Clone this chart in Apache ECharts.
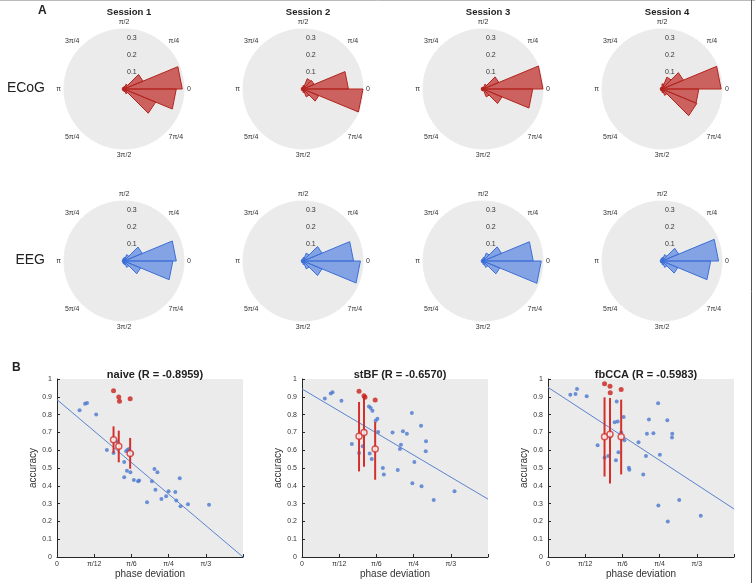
<!DOCTYPE html>
<html>
<head>
<meta charset="utf-8">
<script src="https://cdn.jsdelivr.net/npm/echarts@6/dist/echarts.min.js"></script>
<style>
  html, body { margin: 0; padding: 0; background: #fff; }
  #main { width: 755px; height: 583px; }
</style>
</head>
<body>
<div id="main"></div>
<script>
// polar histograms: 16 bins of pi/8, bin k covers [k*22.5, (k+1)*22.5] degrees (counterclockwise from 0)
var sessions = ['Session 1', 'Session 2', 'Session 3', 'Session 4'];
var binDeg = 22.5;
var ecogS1 = [0.34, 0.12, 0.03, 0.015, 0.01, 0.01, 0.01, 0.01, 0.01, 0.01, 0.01, 0.01, 0.015, 0.03, 0.20, 0.305];
var ecogS2 = [0.265, 0.07, 0.065, 0.02, 0.01, 0.01, 0.01, 0.01, 0.01, 0.01, 0.01, 0.01, 0.02, 0.05, 0.10, 0.35];
var ecogS3 = [0.35, 0.10, 0.03, 0.01, 0.01, 0.01, 0.01, 0.01, 0.01, 0.01, 0.01, 0.01, 0.01, 0.05, 0.12, 0.29];
var ecogS4 = [0.345, 0.135, 0.075, 0.03, 0.01, 0.01, 0.01, 0.01, 0.01, 0.01, 0.01, 0.01, 0.02, 0.04, 0.22, 0.215];
var eegS1 = [0.305, 0.115, 0.04, 0.02, 0.015, 0.01, 0.01, 0.01, 0.01, 0.01, 0.01, 0.015, 0.02, 0.04, 0.105, 0.285];
var eegS2 = [0.295, 0.12, 0.05, 0.02, 0.01, 0.01, 0.01, 0.01, 0.01, 0.01, 0.01, 0.01, 0.02, 0.05, 0.12, 0.335];
var eegS3 = [0.293, 0.117, 0.05, 0.02, 0.01, 0.01, 0.01, 0.01, 0.01, 0.01, 0.01, 0.01, 0.02, 0.04, 0.106, 0.34];
var eegS4 = [0.33, 0.105, 0.04, 0.02, 0.015, 0.01, 0.01, 0.01, 0.01, 0.01, 0.01, 0.01, 0.02, 0.04, 0.10, 0.284];
var angleText = {0: '0', 45: 'π/4', 90: 'π/2', 135: '3π/4', 180: 'π', 225: '5π/4', 270: '3π/2', 315: '7π/4'};

// scatter panels, phase deviation in degrees (15 = pi/12), accuracy 0..1
var xTickText = {0: '0', 15: 'π/12', 30: 'π/6', 45: 'π/4', 60: 'π/3', 75: ''};
var panelTitles = ['naive (R = -0.8959)', 'stBF (R = -0.6570)', 'fbCCA (R = -0.5983)'];

var naiveBlue = [[9.1,0.824],[11.3,0.861],[12.1,0.865],[15.8,0.80],[20.1,0.601],[22.8,0.584],[24.1,0.65],
  [27.1,0.534],[27.9,0.594],[28.4,0.601],[29,0.607],[30.3,0.582],[27.1,0.448],[28.2,0.485],[29.6,0.476],
  [31,0.433],[32.7,0.425],[33.1,0.43],[36.3,0.307],[38.3,0.425],[39.3,0.494],[39.7,0.378],[40.5,0.476],
  [42.1,0.326],[44,0.341],[45,0.369],[47.7,0.365],[48.1,0.318],[49.5,0.442],[49.8,0.285],[52.8,0.296],[61.3,0.294]];
var naiveRed = [[22.8,0.934],[24.9,0.899],[25.2,0.875],[29.5,0.889]];
var naiveMean = [[22.8,0.659,0.584,0.734],[24.9,0.622,0.532,0.71],[29.5,0.582,0.496,0.669]];
var naiveFit = [[0,0.884],[75,0]];

var stbfBlue = [[9.2,0.891],[11.6,0.918],[12.3,0.925],[15.9,0.878],[20.1,0.635],[23,0.584],[24.5,0.622],
  [25.3,0.708],[27.3,0.582],[28.1,0.551],[27,0.845],[27.7,0.837],[28.4,0.822],[29.7,0.766],[30.4,0.777],
  [30.7,0.702],[32.6,0.5],[33,0.463],[36.5,0.70],[38.6,0.489],[39.9,0.631],[39.5,0.607],[40.7,0.706],
  [42.3,0.693],[44.3,0.809],[44.5,0.414],[45.3,0.534],[48,0.738],[48.2,0.397],[50,0.65],[49.9,0.594],
  [53.1,0.32],[61.5,0.369]];
var stbfRed = [[23,0.931],[25,0.906],[25.4,0.897],[29.5,0.882]];
var stbfMean = [[23,0.678,0.481,0.871],[25,0.699,0.507,0.9],[29.5,0.607,0.434,0.758]];
var stbfFit = [[0,0.944],[75,0.325]];

var fbccaBlue = [[9,0.912],[11.1,0.916],[11.7,0.944],[15.6,0.903],[20,0.628],[22.8,0.557],[24.3,0.568],
  [25.1,0.675],[26.9,0.757],[28.1,0.761],[27.7,0.874],[28.4,0.589],[27.4,0.544],[29.5,0.70],[30.5,0.787],
  [30.8,0.656],[32.6,0.501],[32.8,0.49],[36.5,0.645],[38.4,0.464],[39.5,0.568],[39.9,0.692],[40.7,0.772],
  [42.5,0.695],[44.4,0.864],[44.5,0.29],[45.1,0.574],[48.1,0.768],[48.3,0.20],[50,0.671],[50.1,0.693],
  [52.9,0.32],[61.6,0.232]];
var fbccaRed = [[22.8,0.974],[25,0.959],[25.1,0.923],[29.5,0.941]];
var fbccaMean = [[22.8,0.675,0.452,0.897],[25,0.69,0.413,0.893],[29.5,0.675,0.464,0.884]];
var fbccaFit = [[0,0.953],[75,0.27]];

var polarRows = [
  {hist: [ecogS1, ecogS2, ecogS3, ecogS4], fill: 'rgba(190,45,40,0.72)', edge: '#b3241f'},
  {hist: [eegS1, eegS2, eegS3, eegS4], fill: 'rgba(90,135,225,0.72)', edge: '#3d6fd6'}
];
var panels = [
  {blue: naiveBlue, red: naiveRed, mean: naiveMean, fit: naiveFit},
  {blue: stbfBlue, red: stbfRed, mean: stbfMean, fit: stbfFit},
  {blue: fbccaBlue, red: fbccaRed, mean: fbccaMean, fit: fbccaFit}
];

var polarX = [124, 303, 483, 662];
var polarY = [89, 261];
var gridLeft = [57, 302, 548];

var chart = echarts.init(document.getElementById('main'));
var polar = [], angleAxis = [], radiusAxis = [], series = [], title = [];
var grid = [], xAxis = [], yAxis = [];

sessions.forEach(function (s, c) {
  title.push({text: s, left: polarX[c], top: 2, textAlign: 'center',
    textStyle: {fontSize: 9.5, fontWeight: 'bold', color: '#222', fontFamily: 'Liberation Sans'}});
});

polarRows.forEach(function (row, r) {
  row.hist.forEach(function (h, c) {
    var i = polar.length;
    polar.push({center: [polarX[c], polarY[r]], radius: 60});
    angleAxis.push({
      polarIndex: i, type: 'value', min: 90, max: 450, interval: 45,
      startAngle: 90, clockwise: false,
      axisLine: {show: false}, axisTick: {show: false},
      axisLabel: {fontSize: 7, color: '#333', margin: 3, formatter: function (v) { return angleText[v % 360]; }},
      splitLine: {lineStyle: {color: '#d2d2d2', type: 'dotted', width: 0.8}},
      splitArea: {show: true, areaStyle: {color: ['#ebebeb']}}
    });
    radiusAxis.push({
      polarIndex: i, type: 'value', min: 0, max: 0.35, interval: 0.1,
      axisLine: {show: false}, axisTick: {show: false},
      axisLabel: {fontSize: 7, color: '#333', margin: -3, align: 'left', formatter: function (v) {
        return (v > 0.05 && v < 0.33) ? v.toFixed(1) : '';
      }},
      splitLine: {lineStyle: {color: '#d2d2d2', type: 'dotted', width: 0.8}}
    });
    series.push({
      type: 'custom', coordinateSystem: 'polar', polarIndex: i, silent: true,
      data: h.map(function (v, k) {
        var a = k * binDeg;
        return [v, a < 90 ? a + 360 : a];
      }),
      renderItem: function (params, api) {
        var rv = api.value(0), a0 = api.value(1);
        var c0 = api.coord([0, a0]);
        var p1 = api.coord([rv, a0]);
        var p2 = api.coord([rv, a0 + binDeg]);
        return {type: 'polygon', shape: {points: [c0, p1, p2]},
          style: {fill: row.fill, stroke: row.edge, lineWidth: 1}};
      }
    });
  });
});

panels.forEach(function (p, i) {
  grid.push({left: gridLeft[i], top: 379, width: 186, height: 178, show: true,
    backgroundColor: '#ebebeb', borderWidth: 0});
  title.push({text: panelTitles[i], left: gridLeft[i] + 93, top: 364, textAlign: 'center',
    textStyle: {fontSize: 11, fontWeight: 'bold', color: '#222', fontFamily: 'Liberation Sans'}});
  xAxis.push({
    gridIndex: i, type: 'value', min: 0, max: 75, interval: 15,
    name: 'phase deviation', nameLocation: 'middle', nameGap: 12,
    nameTextStyle: {fontSize: 10, color: '#333', fontFamily: 'Liberation Sans'},
    axisLine: {lineStyle: {color: '#262626', width: 1}},
    axisTick: {inside: true, length: 3, lineStyle: {color: '#262626'}},
    axisLabel: {fontSize: 7, color: '#333', margin: 4, formatter: function (v) { return xTickText[v]; }},
    splitLine: {show: false}
  });
  yAxis.push({
    gridIndex: i, type: 'value', min: 0, max: 1, interval: 0.1,
    name: 'accuracy', nameLocation: 'middle', nameGap: 14,
    nameTextStyle: {fontSize: 10, color: '#333', fontFamily: 'Liberation Sans'},
    axisLine: {show: true, lineStyle: {color: '#262626', width: 1}},
    axisTick: {show: true, inside: true, length: 3, lineStyle: {color: '#262626'}},
    axisLabel: {fontSize: 7, color: '#333', margin: 5},
    splitLine: {show: false}
  });
  series.push({type: 'scatter', xAxisIndex: i, yAxisIndex: i, data: p.blue, symbolSize: 4,
    itemStyle: {color: '#4a78d0'}, silent: true, z: 2});
  series.push({type: 'line', xAxisIndex: i, yAxisIndex: i, data: p.fit, symbol: 'none',
    lineStyle: {color: '#5a82cf', width: 1}, silent: true, z: 3});
  series.push({
    type: 'custom', xAxisIndex: i, yAxisIndex: i, data: p.mean, silent: true, z: 4,
    renderItem: function (params, api) {
      var lo = api.coord([api.value(0), api.value(2)]);
      var hi = api.coord([api.value(0), api.value(3)]);
      return {type: 'line', shape: {x1: lo[0], y1: lo[1], x2: hi[0], y2: hi[1]},
        style: {stroke: '#d2302c', lineWidth: 2}};
    }
  });
  series.push({type: 'scatter', xAxisIndex: i, yAxisIndex: i, silent: true, z: 5,
    data: p.mean.map(function (m) { return [m[0], m[1]]; }), symbolSize: 6,
    itemStyle: {color: '#ffffff', borderColor: '#d2302c', borderWidth: 1.5}});
  series.push({type: 'scatter', xAxisIndex: i, yAxisIndex: i, data: p.red, symbolSize: 5,
    itemStyle: {color: '#c9201c'}, silent: true, z: 5});
});

chart.setOption({
  backgroundColor: '#ffffff',
  animation: false,
  textStyle: {fontFamily: 'Liberation Sans'},
  title: title,
  polar: polar,
  angleAxis: angleAxis,
  radiusAxis: radiusAxis,
  grid: grid,
  xAxis: xAxis,
  yAxis: yAxis,
  series: series,
  graphic: [
    {type: 'text', left: 38, top: 5, style: {text: 'A', font: 'bold 12px Liberation Sans', fill: '#222'}},
    {type: 'text', left: 12, top: 362, style: {text: 'B', font: 'bold 12px Liberation Sans', fill: '#222'}},
    {type: 'text', right: 710, top: 81, style: {text: 'ECoG', font: '14px Liberation Sans', fill: '#222'}},
    {type: 'text', right: 710, top: 253, style: {text: 'EEG', font: '14px Liberation Sans', fill: '#222'}},
    {type: 'line', shape: {x1: 0, y1: 0.5, x2: 755, y2: 0.5}, style: {stroke: '#bbbbbb', lineWidth: 1}},
    {type: 'line', shape: {x1: 751.5, y1: 0, x2: 751.5, y2: 583}, style: {stroke: '#555555', lineWidth: 1}}
  ]
});
</script>
</body>
</html>
